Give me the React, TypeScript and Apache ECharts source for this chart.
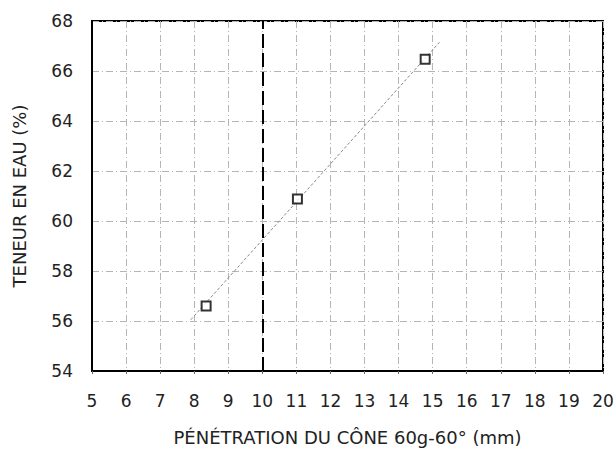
import React, { useEffect, useRef } from "react";
import * as echarts from "echarts";

const points: [number, number][] = [
  [8.35, 56.6],
  [11.03, 60.88],
  [14.78, 66.47],
];
const trendLine: [number, number][] = [
  [7.9, 56.05],
  [15.2, 67.15],
];
const limitX = 10;
const xTitle = "PÉNÉTRATION DU CÔNE 60g-60° (mm)";
const yTitle = "TENEUR EN EAU (%)";

export default function App() {
  const ref = useRef<HTMLDivElement>(null);
  useEffect(() => {
    if (!ref.current) return;
    const chart = echarts.init(ref.current, undefined, { renderer: "svg" });
    const font = "'DejaVu Sans', Arial, sans-serif";
    chart.setOption({
      animation: false,
      backgroundColor: "#fff",
      grid: {
        left: 92,
        top: 21,
        right: 13,
        bottom: 78,
        containLabel: false,
        outerBoundsMode: "none",
        show: true,
        borderColor: "#000",
        borderWidth: 2,
      },
      xAxis: {
        type: "value",
        min: 5,
        max: 20,
        interval: 1,
        name: xTitle,
        nameLocation: "middle",
        nameGap: 57,
        nameTextStyle: { fontFamily: font, fontSize: 18, color: "#222" },
        axisLine: { show: true, lineStyle: { color: "#000", width: 2 } },
        axisTick: { show: true, length: 3, lineStyle: { color: "#666" } },
        axisLabel: { fontFamily: font, fontSize: 17, color: "#222", margin: 21 },
        splitLine: {
          show: true,
          lineStyle: { color: "#b5b5b5", width: 1, type: [7, 3, 1, 3] },
        },
      },
      yAxis: {
        type: "value",
        min: 54,
        max: 68,
        interval: 2,
        name: yTitle,
        nameLocation: "middle",
        nameGap: 64,
        nameTextStyle: { fontFamily: font, fontSize: 18, color: "#222" },
        axisLine: { show: true, lineStyle: { color: "#000", width: 2 } },
        axisTick: { show: false },
        axisLabel: { fontFamily: font, fontSize: 17, color: "#222", margin: 19 },
        splitLine: {
          show: true,
          lineStyle: { color: "#b5b5b5", width: 1, type: [7, 3, 1, 3] },
        },
      },
      series: [
        {
          type: "line",
          data: trendLine,
          symbol: "none",
          lineStyle: { color: "#888", width: 1, type: [3, 2] },
          markLine: {
            symbol: "none",
            silent: true,
            label: { show: false },
            lineStyle: { color: "#000", width: 2, type: [14, 5] },
            data: [{ xAxis: limitX }],
          },
          z: 3,
        },
        {
          type: "scatter",
          data: points,
          symbol: "rect",
          symbolSize: 9,
          itemStyle: { color: "#fff", borderColor: "#000", borderWidth: 2 },
          z: 5,
        },
      ],
    });
    return () => chart.dispose();
  }, []);
  return (
    <div
      ref={ref}
      style={{ position: "absolute", left: 0, top: 0, width: 616, height: 449 }}
    />
  );
}
